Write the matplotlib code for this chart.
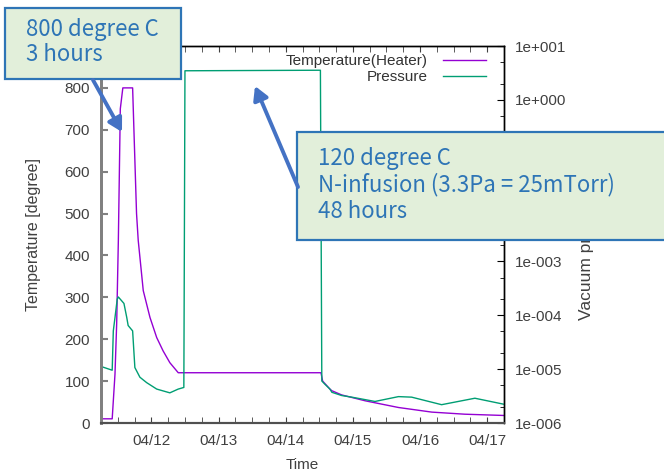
"""
N-infusion: temperatura grzałki i ciśnienie próżni w funkcji czasu.
"""

import numpy as np
import pandas as pd
import matplotlib
matplotlib.use("Agg")
import matplotlib.pyplot as plt
import matplotlib.dates as mdates
from matplotlib.patches import Rectangle, FancyArrowPatch
from matplotlib.ticker import FixedLocator, LogLocator, FuncFormatter, NullFormatter

plt.rcParams["font.family"] = ["Liberation Sans", "DejaVu Sans"]

# ── Dane (godziny od 04/11 00:00) ──
t0 = pd.Timestamp("2018-04-11 00:00")

temp_hours = [6.0, 10.0, 11.0, 11.6, 12.2, 12.9, 13.8, 17.3, 17.8, 18.7, 19.3, 21.1,
              23.5, 25.9, 28.2, 30.6, 33.6, 84.6, 85.2, 87.8, 88.5, 92.0, 100.4,
              112.3, 124.2, 136.0, 149.8]
temp_vals = [10, 10, 117, 237, 436, 750, 800, 800, 692, 500, 436, 316,
             252, 204, 172, 144, 120, 120, 100, 81, 77, 67, 53,
             37, 26, 21, 18]

pres_hours = [6.0, 10.0, 10.4, 11.0, 11.8, 12.2, 14.2, 15.2, 15.7, 17.3, 18.1, 19.9,
              22.3, 25.9, 30.6, 33.6, 35.6, 35.7, 36.0, 84.4, 84.9, 86.0, 87.8,
              88.5, 92.0, 95.6, 103.9, 112.3, 117.0, 127.7, 139.6, 149.8]
pres_log = [-4.95, -5.02, -4.29, -4.04, -3.70, -3.66, -3.78, -4.04, -4.19, -4.29, -4.97, -5.15,
            -5.25, -5.37, -5.44, -5.37, -5.34, -3.95, 0.54, 0.55, -5.22, -5.28, -5.37,
            -5.43, -5.49, -5.52, -5.60, -5.51, -5.52, -5.66, -5.54, -5.65]

left_ticks = [0, 100, 200, 300, 400, 500, 600, 700, 800, 900]

temp_t = t0 + pd.to_timedelta(temp_hours, unit="h")
pres_t = t0 + pd.to_timedelta(pres_hours, unit="h")
pres_vals = 10.0 ** np.array(pres_log)

W, H = 664, 473
fig = plt.figure(figsize=(W / 100, H / 100), dpi=100)
ax = fig.add_axes([101 / W, 1 - 423 / H, 403 / W, 377 / H])
ax2 = ax.twinx()

tick_col = "#404040"

l1, = ax.plot(temp_t, temp_vals, color="#9400D3", lw=1.0, label="Temperature(Heater)")
l2, = ax2.plot(pres_t, pres_vals, color="#009E73", lw=1.0, label="Pressure")

ax.set_xlim(t0 + pd.Timedelta(hours=6), t0 + pd.Timedelta(hours=150))
ax.set_ylim(0, 900)
ax.yaxis.set_major_locator(FixedLocator(left_ticks))
ax.xaxis.set_major_locator(mdates.DayLocator())
ax.xaxis.set_minor_locator(mdates.HourLocator(byhour=[6, 12, 18]))
ax.xaxis.set_major_formatter(mdates.DateFormatter("%m/%d"))

ax2.set_yscale("log")
ax2.set_ylim(1e-6, 1e1)
ax2.yaxis.set_major_locator(LogLocator(base=10, numticks=20))
ax2.yaxis.set_minor_locator(LogLocator(base=10, subs=(2, 5), numticks=20))
ax2.yaxis.set_major_formatter(FuncFormatter(lambda v, p: f"1e{int(round(np.log10(v))):+04d}"))
ax2.yaxis.set_minor_formatter(NullFormatter())

ax.tick_params(axis="x", which="both", direction="in", length=4, top=True,
               labelsize=11, labelcolor=tick_col, color=tick_col, pad=8)
ax.tick_params(axis="y", which="both", direction="in", length=5, labelsize=11,
               labelcolor=tick_col, color="#808080", width=1.5, pad=8)
ax2.tick_params(axis="y", which="major", direction="in", length=5, labelsize=11,
                labelcolor=tick_col, pad=8)
ax2.tick_params(axis="y", which="minor", direction="in", length=3)

ax.set_xlabel("Time", fontsize=11, color=tick_col, labelpad=7)
ax.set_ylabel("Temperature [degree]", fontsize=11.5, color=tick_col)
ax.yaxis.set_label_coords(-0.148, 0.5)
ax2.set_ylabel("Vacuum pressure [Pa]", fontsize=12.5, color=tick_col)
ax2.yaxis.set_label_coords(1.185, 0.5)

for a in (ax, ax2):
    a.spines["left"].set_color("#808080")
    a.spines["left"].set_linewidth(2.0)
    a.spines["bottom"].set_color("#505050")
    a.spines["bottom"].set_linewidth(1.5)
    a.spines["top"].set_linewidth(1.0)
    a.spines["right"].set_linewidth(1.0)

leg = ax.legend(handles=[l1, l2], loc="upper right", frameon=False, markerfirst=False,
                fontsize=11, handlelength=2.8, handletextpad=1.0, borderaxespad=0.15,
                labelspacing=0.1, bbox_to_anchor=(0.975, 1.0))
for txt in leg.get_texts():
    txt.set_color("#333333")

# ── Adnotacje ──
box_fc = "#E2EFDA"
box_ec = "#2E75B6"
txt_col = "#2E75B6"
arr_col = "#4472C4"


def fx(x):
    return x / W


def fy(y):
    return 1 - y / H


fig.add_artist(Rectangle((fx(5), fy(79)), fx(176), 71 / H, transform=fig.transFigure,
                         facecolor=box_fc, edgecolor=box_ec, lw=1.6, zorder=4))
fig.add_artist(Rectangle((fx(297), fy(240)), fx(380), 108 / H, transform=fig.transFigure,
                         facecolor=box_fc, edgecolor=box_ec, lw=1.6, zorder=4))

ann_font = ["Noto Sans CJK JP", "DejaVu Sans"]
fig.text(fx(26), fy(42), "800 degree C\n3 hours", fontsize=16, color=txt_col,
         family=ann_font, va="center", ha="left", linespacing=1.12, zorder=6)
fig.text(fx(318), fy(185), "120 degree C\nN-infusion (3.3Pa = 25mTorr)\n48 hours",
         fontsize=16, color=txt_col, family=ann_font, va="center", ha="left",
         linespacing=1.15, zorder=6)

for (x0, y0), (x1, y1) in [((93, 80), (122, 132)), ((298, 187), (255, 86))]:
    fig.add_artist(FancyArrowPatch((fx(x0), fy(y0)), (fx(x1), fy(y1)),
                                   transform=fig.transFigure,
                                   arrowstyle="-|>,head_length=8,head_width=4.5",
                                   color=arr_col, lw=2.8, shrinkA=0, shrinkB=0, zorder=5))

fig.savefig("out.png", dpi=100)
